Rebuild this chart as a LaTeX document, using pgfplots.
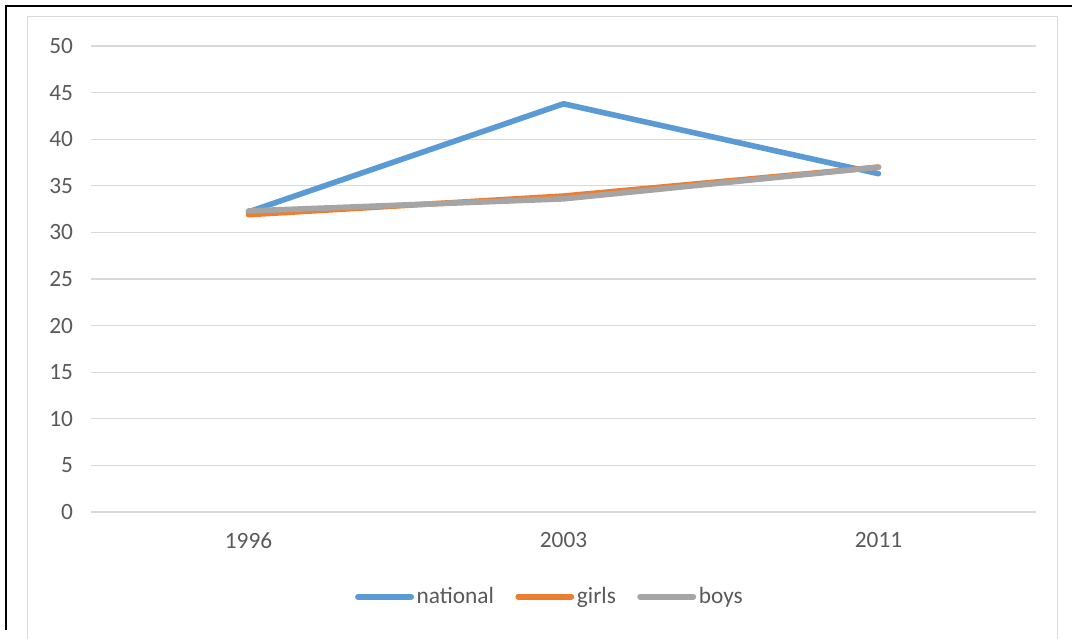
\documentclass[border=0pt]{standalone}
\usepackage{pgfplots}
\pgfplotsset{compat=1.18}
\usepackage{fontspec}
\setmainfont{Carlito}
\definecolor{cblue}{HTML}{5B9BD5}
\definecolor{corange}{HTML}{ED7D31}
\definecolor{cgray}{HTML}{A5A5A5}
\definecolor{ctext}{HTML}{595959}
\definecolor{cgrid}{HTML}{D9D9D9}
\begin{document}
\begin{tikzpicture}[x=0.75pt,y=0.75pt]
% page frame, 1 unit = 1 px of the reference, origin at the axis's lower left corner
\useasboundingbox (-91,-127) rectangle (981,512);
\draw[cgrid, line width=0.75pt] (-63,-130) -- (-63,495) -- (966,495) -- (966,-130);
\draw[black, line width=1.6pt] (-85,-118) -- (-85,506) -- (981,506);
\begin{axis}[
    at={(0,0)}, anchor=south west,
    scale only axis,
    width=708.75pt, height=349.5pt,
    xmin=-0.5, xmax=2.5,
    ymin=0, ymax=50,
    xtick={0,1,2},
    xticklabels={1996,2003,2011},
    ytick={0,5,...,50},
    axis line style={draw=none},
    major tick length=0pt,
    ymajorgrids,
    grid style={cgrid, line width=0.9pt},
    tick label style={font=\fontsize{17.5}{21}\selectfont, text=ctext},
    yticklabel style={xshift=-10pt},
    xticklabel style={yshift=-12pt},
    /pgf/number format/assume math mode=true,
    legend style={
        at={(0.486,-0.182)}, anchor=center,
        draw=none, fill=none,
        font=\fontsize{17.5}{21}\selectfont, text=ctext,
        legend columns=3,
        /tikz/every even column/.append style={column sep=14pt},
        inner sep=0pt,
    },
    legend cell align=left,
    legend image code/.code={
        \draw[#1, line cap=round] (0pt,0pt) -- (40pt,0pt);
    },
    every axis plot/.append style={line width=4.2pt, line join=round, line cap=round},
]
\addplot[cblue] coordinates {(0,32.2) (1,43.8) (2,36.3)};
\addplot[corange] coordinates {(0,31.9) (1,33.9) (2,37.0)};
\addplot[cgray] coordinates {(0,32.3) (1,33.6) (2,37.0)};
\legend{national,girls,boys}
\end{axis}
\end{tikzpicture}
\end{document}
